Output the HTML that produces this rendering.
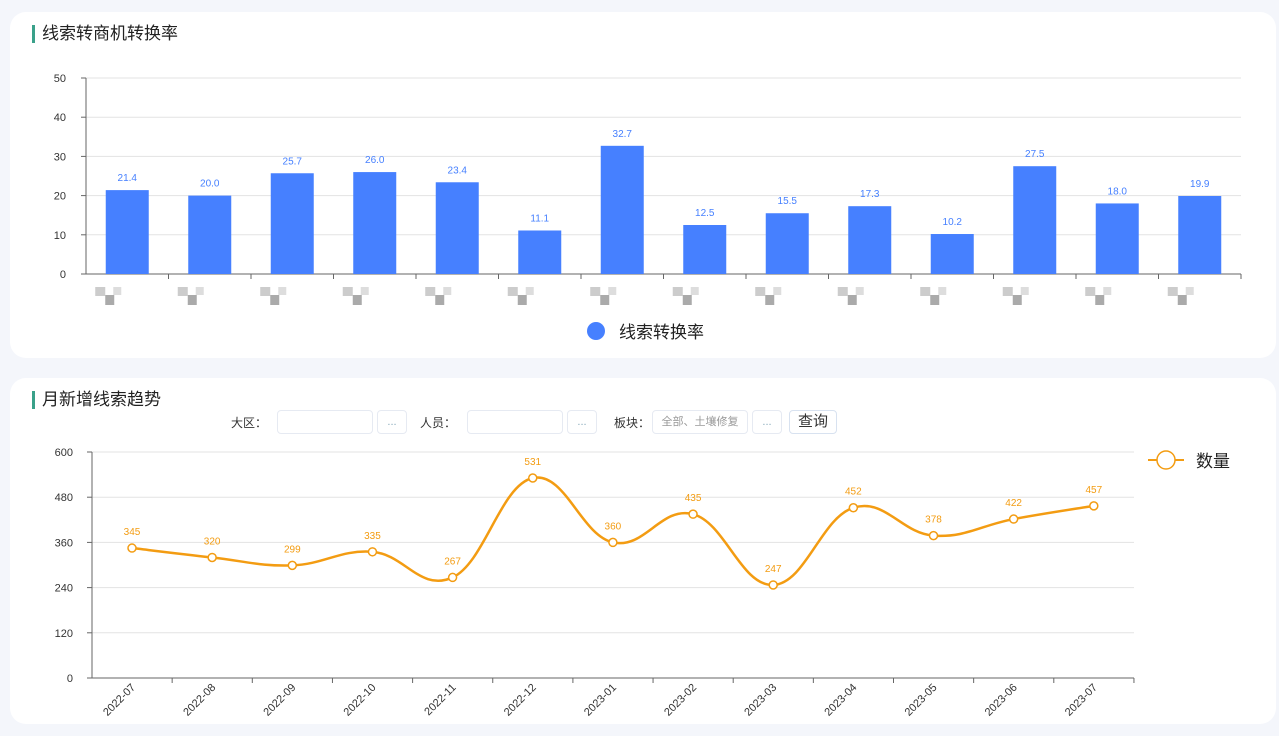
<!DOCTYPE html>
<html><head><meta charset="utf-8"><style>
body{margin:0;width:1279px;height:736px;background:#f4f6fb;font-family:"Liberation Sans","Noto Sans CJK SC",sans-serif;overflow:hidden;position:relative}
.card{position:absolute;left:10px;width:1266px;background:#fff;border-radius:16px}
.t{position:absolute;left:32px;font-size:17px;color:#222;border-left:3px solid #3aa18a;padding-left:7px;line-height:18px}
.f{position:absolute;font-size:12px;color:#333}
.box{position:absolute;border:1px solid #e6eaf2;border-radius:4px;height:22px;background:#fff;font-size:11px;color:#999;line-height:22px}
svg{position:absolute;left:0;top:0}
</style></head><body>
<div class="card" style="top:12px;height:346px"></div>
<div class="card" style="top:378px;height:346px"></div>
<div class="t" style="top:25px">线索转商机转换率</div>
<div class="t" style="top:391px">月新增线索趋势</div>
<div class="f" style="left:231px;top:414px">大区：</div>
<div class="box" style="left:277px;top:410px;width:94px"></div>
<div class="box" style="left:377px;top:410px;width:28px;text-align:center;color:#8ab">...</div>
<div class="f" style="left:420px;top:414px">人员：</div>
<div class="box" style="left:467px;top:410px;width:94px"></div>
<div class="box" style="left:567px;top:410px;width:28px;text-align:center;color:#8ab">...</div>
<div class="f" style="left:614px;top:414px">板块：</div>
<div class="box" style="left:652px;top:410px;width:94px;text-align:center">全部、土壤修复</div>
<div class="box" style="left:752px;top:410px;width:28px;text-align:center;color:#8ab">...</div>
<div class="box" style="left:789px;top:410px;width:46px;text-align:center;color:#333;font-size:15px;border-color:#d8e2f0">查询</div>
<svg id="s" width="1279" height="736" font-family="Liberation Sans, Noto Sans CJK SC, sans-serif"></svg>
<script>
var h='';
for(var i=0;i<=5;i++){var y=274-i*39.2;h+='<line x1="86" x2="1241" y1="'+y+'" y2="'+y+'" stroke="'+(i?'#e3e3e3':'#666')+'"/><text x="66" y="'+(y+4)+'" font-size="11" text-anchor="end" fill="#333">'+i*10+'</text><line x1="81" x2="86" y1="'+y+'" y2="'+y+'" stroke="#666"/>';}
h+='<line x1="86" x2="86" y1="78" y2="274" stroke="#666"/>';
var v=[21.4,20.0,25.7,26.0,23.4,11.1,32.7,12.5,15.5,17.3,10.2,27.5,18.0,19.9];
for(i=0;i<14;i++){var cx=86+82.5*i+41.25,bh=v[i]*3.92;
h+='<rect x="'+(cx-21.5)+'" y="'+(274-bh)+'" width="43" height="'+bh+'" fill="#4680ff"/>';
h+='<text x="'+cx+'" y="'+(274-bh-9)+'" font-size="10" text-anchor="middle" fill="#4680ff">'+v[i].toFixed(1)+'</text>';
h+='<line x1="'+(86+82.5*(i+1))+'" x2="'+(86+82.5*(i+1))+'" y1="274" y2="279" stroke="#666"/>';
h+='<rect x="'+(cx-32)+'" y="287" width="10" height="9" fill="#ccc"/><rect x="'+(cx-22)+'" y="295" width="9" height="10" fill="#aaa"/><rect x="'+(cx-14)+'" y="287" width="8" height="8" fill="#ddd"/>';}
h+='<circle cx="596" cy="331" r="9" fill="#4680ff"/><text x="619" y="338" font-size="17" fill="#222">线索转换率</text>';
for(i=0;i<=5;i++){var y=678-i*45.2;h+='<line x1="92" x2="1134" y1="'+y+'" y2="'+y+'" stroke="'+(i?'#e3e3e3':'#666')+'"/><text x="73" y="'+(y+4)+'" font-size="11" text-anchor="end" fill="#333">'+i*120+'</text><line x1="87" x2="92" y1="'+y+'" y2="'+y+'" stroke="#666"/>';}
h+='<line x1="92" x2="92" y1="452" y2="678" stroke="#666"/>';
var d=[345,320,299,335,267,531,360,435,247,452,378,422,457],m=['2022-07','2022-08','2022-09','2022-10','2022-11','2022-12','2023-01','2023-02','2023-03','2023-04','2023-05','2023-06','2023-07'];
var P=d.map(function(a,i){return [132+80.15*i,678-a*226/600]});
var p='M'+P[0];
for(i=0;i<12;i++){var a=P[Math.max(i-1,0)],b=P[i],c=P[i+1],e=P[Math.min(i+2,12)],k=0.2;
p+=' C'+(b[0]+(c[0]-a[0])*k)+','+(b[1]+(c[1]-a[1])*k)+' '+(c[0]-(e[0]-b[0])*k)+','+(c[1]-(e[1]-b[1])*k)+' '+c;}
h+='<path d="'+p+'" fill="none" stroke="#f39c12" stroke-width="2.5"/>';
for(i=0;i<13;i++){h+='<circle cx="'+P[i][0]+'" cy="'+P[i][1]+'" r="4" fill="#fff" stroke="#f39c12" stroke-width="1.5"/><text x="'+P[i][0]+'" y="'+(P[i][1]-13)+'" font-size="10" text-anchor="middle" fill="#f39c12">'+d[i]+'</text>';
var tx=92+80.15*(i+1);h+='<line x1="'+tx+'" x2="'+tx+'" y1="678" y2="683" stroke="#666"/>';
h+='<text transform="translate('+(P[i][0]+4)+',688) rotate(-45)" font-size="11" text-anchor="end" fill="#333">'+m[i]+'</text>';}
h+='<line x1="1148" x2="1184" y1="460" y2="460" stroke="#f39c12" stroke-width="2"/><circle cx="1166" cy="460" r="9" fill="#fff" stroke="#f39c12" stroke-width="1.5"/><text x="1196" y="467" font-size="17" fill="#222">数量</text>';
document.getElementById('s').innerHTML=h;
</script>
</body></html>
